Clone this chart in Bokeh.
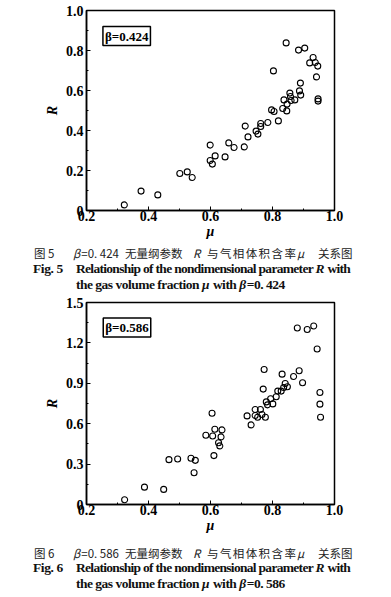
from bokeh.plotting import figure
from bokeh.models import Range1d, FixedTicker, Label, Div, ColumnDataSource
from bokeh.layouts import column
from bokeh.embed import file_html
from bokeh.resources import INLINE

# ---- Fig. 5 data (beta = 0.424) ----
mu_5 = [0.322, 0.376, 0.430, 0.501, 0.525, 0.541, 0.599, 0.599, 0.606, 0.615,
        0.647, 0.659, 0.676, 0.709, 0.712, 0.721, 0.747, 0.753, 0.762, 0.762,
        0.785, 0.797, 0.805, 0.803, 0.819, 0.833, 0.837, 0.844, 0.846, 0.847,
        0.856, 0.858, 0.860, 0.872, 0.884, 0.887, 0.890, 0.891, 0.904, 0.920,
        0.931, 0.938, 0.942, 0.946, 0.947, 0.947]
R_5 = [0.028, 0.097, 0.078, 0.185, 0.193, 0.165, 0.327, 0.250, 0.232, 0.273,
       0.268, 0.338, 0.315, 0.318, 0.422, 0.368, 0.397, 0.382, 0.435, 0.420,
       0.440, 0.503, 0.495, 0.698, 0.448, 0.510, 0.553, 0.838, 0.498, 0.532,
       0.587, 0.570, 0.550, 0.553, 0.802, 0.598, 0.637, 0.577, 0.812, 0.738,
       0.765, 0.740, 0.668, 0.722, 0.558, 0.547]

# ---- Fig. 6 data (beta = 0.586) ----
mu_6 = [0.323, 0.387, 0.449, 0.466, 0.494, 0.537, 0.551, 0.547, 0.611, 0.585,
        0.605, 0.607, 0.614, 0.626, 0.630, 0.634, 0.637, 0.718, 0.731, 0.744,
        0.744, 0.752, 0.761, 0.766, 0.777, 0.770, 0.773, 0.780, 0.784, 0.794,
        0.801, 0.812, 0.817, 0.828, 0.831, 0.836, 0.841, 0.848, 0.868, 0.880,
        0.886, 0.897, 0.912, 0.933, 0.944, 0.953, 0.953, 0.955]
R_6 = [0.035, 0.129, 0.112, 0.333, 0.338, 0.343, 0.328, 0.236, 0.363, 0.514,
       0.678, 0.509, 0.559, 0.459, 0.435, 0.502, 0.554, 0.658, 0.591, 0.705,
       0.661, 0.648, 0.705, 0.668, 0.648, 0.857, 1.003, 0.762, 0.740, 0.785,
       0.747, 0.800, 0.842, 0.842, 0.968, 0.869, 0.899, 0.874, 0.951, 1.311,
       0.993, 0.904, 1.299, 1.326, 1.155, 0.832, 0.745, 0.648]

x_ticks = [0.2, 0.4, 0.6, 0.8, 1.0]
x_labels = ["0.2", "0.4", "0.6", "0.8", "1.0"]
x_minor = [0.3, 0.5, 0.7, 0.9]
y_ticks_5 = [0.0, 0.2, 0.4, 0.6, 0.8, 1.0]
y_labels_5 = ["0", "0.2", "0.4", "0.6", "0.8", "1.0"]
y_minor_5 = [0.1, 0.3, 0.5, 0.7, 0.9]
y_ticks_6 = [0.0, 0.3, 0.6, 0.9, 1.2, 1.5]
y_labels_6 = ["0", "0.3", "0.6", "0.9", "1.2", "1.5"]
y_minor_6 = [0.15, 0.45, 0.75, 1.05, 1.35]

SERIF = "Liberation Serif"
W = 391


def make_fig(mu, R, ymax, yticks, yminor, ylabels, tag, b_left, b_right, b_top, b_bottom,
             height, tag_x, tag_y):
    p = figure(width=W, height=height, output_backend="svg",
               toolbar_location=None, x_range=Range1d(0.2, 1.0),
               y_range=Range1d(0.0, ymax),
               min_border_left=b_left, min_border_right=b_right,
               min_border_top=b_top, min_border_bottom=b_bottom)
    p.grid.visible = False
    p.outline_line_color = "black"
    p.outline_line_width = 1.5
    p.background_fill_color = "white"
    p.border_fill_color = "white"

    p.xaxis.ticker = FixedTicker(ticks=x_ticks, minor_ticks=x_minor)
    p.yaxis.ticker = FixedTicker(ticks=yticks, minor_ticks=yminor)
    p.xaxis.major_label_overrides = {t: lab for t, lab in zip(x_ticks, x_labels)}
    p.yaxis.major_label_overrides = {t: lab for t, lab in zip(yticks, ylabels)}

    for ax in (p.xaxis[0], p.yaxis[0]):
        ax.axis_line_color = "black"
        ax.axis_line_width = 1.5
        ax.major_tick_in = 4
        ax.major_tick_out = 0
        ax.minor_tick_in = 2
        ax.minor_tick_out = 0
        ax.major_tick_line_color = "black"
        ax.minor_tick_line_color = "black"
        ax.major_label_text_font = SERIF
        ax.major_label_text_font_style = "bold"
        ax.major_label_text_font_size = "14px"
        ax.major_label_text_color = "black"
        ax.axis_label_text_font = SERIF
        ax.axis_label_text_font_style = "bold italic"
        ax.axis_label_text_font_size = "14px"
        ax.axis_label_text_color = "black"

    p.xaxis.major_label_standoff = 0
    p.xaxis.axis_label_standoff = 0
    p.yaxis.major_label_standoff = 3
    p.yaxis.axis_label_standoff = 3

    p.xaxis.axis_label = "μ"
    p.yaxis.axis_label = "R"

    src = ColumnDataSource(dict(mu=mu, R=R))
    p.scatter("mu", "R", source=src, marker="circle", size=6, fill_color=None,
              line_color="black", line_width=1.1)

    lab = Label(x=tag_x, y=tag_y, text=tag, anchor="top_left",
                text_font=SERIF, text_font_style="bold", text_font_size="13px",
                text_color="black", border_line_color="black", border_line_width=1.5,
                background_fill_color="white", padding=2)
    p.add_layout(lab)
    return p


p5 = make_fig(mu_5, R_5, 1.0, y_ticks_5, y_minor_5, y_labels_5,
              "β=0.424", 84, W - 84 - 250, 10, 32, 242, 0.253, 0.92)
p6 = make_fig(mu_6, R_6, 1.5, y_ticks_6, y_minor_6, y_labels_6,
              "β=0.586", 86, W - 86 - 249, 8, 32, 242, 0.254, 1.385)

CN = "font-family:&quot;Noto Sans CJK SC&quot;;font-size:11.5px;color:#222;"
EN = "font-family:&quot;Liberation Serif&quot;;font-weight:bold;font-size:13.5px;color:#111;"


def span(left, top, style, txt):
    return (f'<span style="position:absolute;left:{left}px;top:{top}px;white-space:nowrap;'
            f'line-height:14px;{style}">{txt}</span>')


def caption(num, beta_txt, y1, y2, y3):
    it = '<i style="padding-right:1px;">'
    parts = [
        span(34, y1, CN, f"图 {num}"),
        span(73, y1, CN, f"{it}β</i>=0. {beta_txt}"),
        span(125, y1, CN, "无量纲参数"),
        span(193, y1, CN, f"{it}R</i>"),
        span(207, y1, CN + "letter-spacing:1.4px;", "与气相体积含率"),
        span(297, y1, CN, f"{it}μ</i>"),
        span(318, y1, CN, "关系图"),
        span(33, y2, EN + "letter-spacing:-0.4px;", f"Fig. {num}"),
        span(76, y2, EN + "letter-spacing:-0.7px;",
             f"Relationship of the nondimensional parameter {it}R</i> with"),
        span(76, y3, EN + "letter-spacing:-0.5px;",
             f"the gas volume fraction {it}μ</i> with {it}β</i>=0. {beta_txt}"),
    ]
    return f'<div style="position:relative;width:{W}px;height:56px;">' + "".join(parts) + "</div>"


d5 = Div(text=caption(5, "424", 4, 20, 36), width=W, height=52, margin=(0, 0, 0, 0))
d6 = Div(text=caption(6, "586", 10, 25, 41), width=W, height=60, margin=(0, 0, 0, 0))

layout = column(p5, d5, p6, d6, spacing=0)

open("out.html", "w").write(file_html(layout, INLINE))
